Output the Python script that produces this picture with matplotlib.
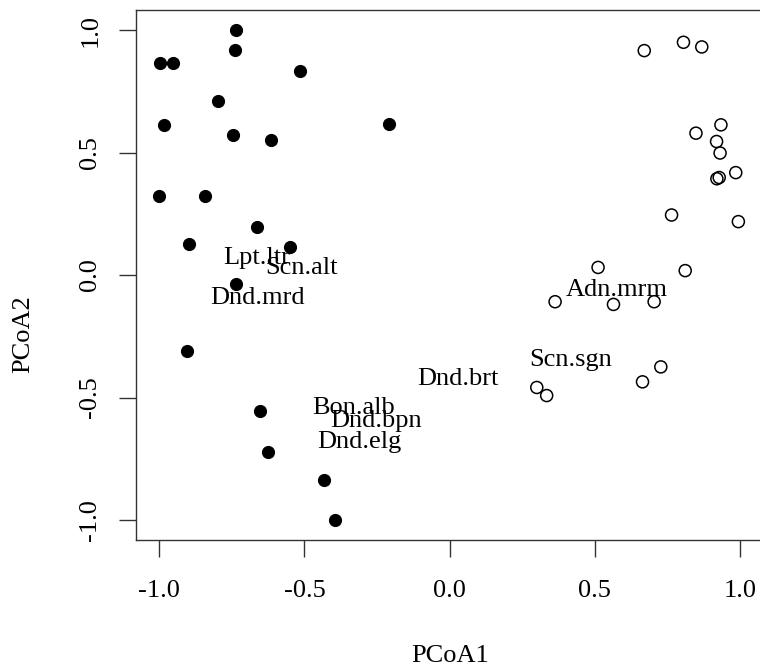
import matplotlib
matplotlib.use("Agg")
import matplotlib.pyplot as plt

plt.rcParams["font.family"] = ["Liberation Serif", "DejaVu Serif"]

# group 1 (filled) and group 2 (open) site scores
pc1_filled = [-0.735, -0.739, -0.997, -0.954, -0.515, -0.798, -0.982, -0.210,
              -0.746, -0.614, -1.000, -0.844, -0.664, -0.899, -0.548, -0.735,
              -0.905, -0.653, -0.624, -0.431, -0.394]
pc2_filled = [1.000, 0.920, 0.866, 0.866, 0.832, 0.712, 0.611, 0.618,
              0.571, 0.552, 0.323, 0.323, 0.195, 0.127, 0.113, -0.038,
              -0.311, -0.556, -0.723, -0.836, -0.999]

pc1_open = [0.670, 0.805, 0.868, 0.934, 0.848, 0.919, 0.931, 0.985, 0.920,
            0.928, 0.764, 0.994, 0.511, 0.811, 0.363, 0.564, 0.704, 0.727,
            0.664, 0.300, 0.334]
pc2_open = [0.916, 0.950, 0.931, 0.613, 0.579, 0.545, 0.498, 0.418, 0.393,
            0.398, 0.245, 0.218, 0.031, 0.018, -0.109, -0.120, -0.109, -0.375,
            -0.436, -0.459, -0.492]

# species labels
species = ["Lpt.ltr", "Scn.alt", "Dnd.mrd", "Bon.alb", "Dnd.bpn", "Dnd.elg",
           "Dnd.brt", "Scn.sgn", "Adn.mrm"]
sp_x = [-0.665, -0.510, -0.660, -0.331, -0.253, -0.312, 0.029, 0.417, 0.575]
sp_y = [0.078, 0.038, -0.085, -0.532, -0.586, -0.672, -0.416, -0.337, -0.050]

ticks = [-1.0, -0.5, 0.0, 0.5, 1.0]

fig = plt.figure(figsize=(7.6, 6.69), dpi=100)
# right edge of the box runs just past the image, as in the reference
ax = fig.add_axes([0.1789, 0.1934, 0.8255, 0.7910])

ax.scatter(pc1_filled, pc2_filled, s=75, c="black", edgecolors="black", linewidths=0.8, zorder=3)
ax.scatter(pc1_open, pc2_open, s=75, facecolors="none", edgecolors="black", linewidths=1.1, zorder=3)

for name, x, y in zip(species, sp_x, sp_y):
    ax.text(x, y, name, fontsize=19, ha="center", va="center_baseline", zorder=4)

ax.set_xlim(-1.08, 1.08)
ax.set_ylim(-1.08, 1.08)
ax.set_xticks(ticks)
ax.set_yticks(ticks)
ax.set_xticklabels([f"{t:.1f}" for t in ticks])
ax.set_yticklabels([f"{t:.1f}" for t in ticks], rotation=90, va="center")
ax.tick_params(axis="both", length=12, width=1.0, color="#333333", labelsize=19)
ax.tick_params(axis="x", pad=17)
ax.tick_params(axis="y", pad=13)

for sp in ax.spines.values():
    sp.set_color("#333333")
    sp.set_linewidth(1.0)

ax.set_xlabel("PCoA1", fontsize=19, va="center")
ax.set_ylabel("PCoA2", fontsize=19, va="center")
ax.xaxis.set_label_coords(449.7 / 760, (669 - 656) / 669, transform=fig.transFigure)
ax.yaxis.set_label_coords(23 / 760, 0.5, transform=fig.transFigure)

fig.savefig("out.png", dpi=100)
